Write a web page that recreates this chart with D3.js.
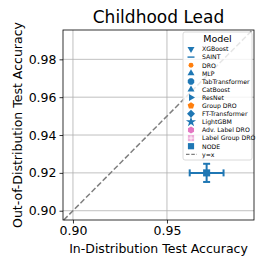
<!DOCTYPE html>
<html>
<head>
<meta charset="utf-8">
<script src="https://cdn.jsdelivr.net/npm/d3@7"></script>
<style>
  body { margin: 0; background: #fff; }
  text { font-family: "DejaVu Sans", sans-serif; }
</style>
</head>
<body>
<script>
'use strict';
var WIDTH = 266, HEIGHT = 266;

// legend entries
var models = ['XGBoost', 'SAINT', 'DRO', 'MLP', 'TabTransformer', 'CatBoost', 'ResNet',
              'Group DRO', 'FT-Transformer', 'LightGBM', 'Adv. Label DRO', 'Label Group DRO', 'NODE'];
var markers = ['tridown', 'hline', 'circle', 'triup', 'octagon', 'triup', 'triright',
               'pentagon', 'diamond', 'star', 'hexagon', 'plussquare', 'square'];
var colors = ['#1f77b4', '#1f77b4', '#ff7f0e', '#1f77b4', '#1f77b4', '#1f77b4', '#1f77b4',
              '#ff7f0e', '#1f77b4', '#1f77b4', '#e377c2', '#e377c2', '#1f77b4'];

// plotted results
var pointModel = ['NODE'];
var idAcc = [0.9711];
var oodAcc = [0.9200];
var idErr = [0.0090];
var oodErr = [0.0048];

var xTicks = [0.90, 0.95];
var yTicks = [0.90, 0.92, 0.94, 0.96, 0.98];

var margin = {left: 63, right: 12, top: 30, bottom: 46};
var x = d3.scaleLinear().domain([0.8947, 0.9963]).range([margin.left, WIDTH - margin.right]);
var y = d3.scaleLinear().domain([0.8951, 0.9955]).range([HEIGHT - margin.bottom, margin.top]);

var svg = d3.select('body').append('svg')
  .attr('width', WIDTH).attr('height', HEIGHT);

// grid
svg.append('g').selectAll('line').data(xTicks).enter().append('line')
  .attr('x1', d => x(d)).attr('x2', d => x(d))
  .attr('y1', y.range()[0]).attr('y2', y.range()[1])
  .attr('stroke', '#b0b0b0').attr('stroke-width', 0.8);
svg.append('g').selectAll('line').data(yTicks).enter().append('line')
  .attr('y1', d => y(d)).attr('y2', d => y(d))
  .attr('x1', x.range()[0]).attr('x2', x.range()[1])
  .attr('stroke', '#b0b0b0').attr('stroke-width', 0.8);

// y = x
var lo = Math.max(x.domain()[0], y.domain()[0]), hi = Math.min(x.domain()[1], y.domain()[1]);
svg.append('line')
  .attr('x1', x(lo)).attr('y1', y(lo)).attr('x2', x(hi)).attr('y2', y(hi))
  .attr('stroke', '#7f7f7f').attr('stroke-width', 1.5).attr('stroke-dasharray', '5.5,2.4');

// axes
var xAxis = svg.append('g').attr('transform', 'translate(0,' + y.range()[0] + ')')
  .call(d3.axisBottom(x).tickValues(xTicks).tickFormat(d3.format('.2f')).tickSize(3.5).tickPadding(3));
var yAxis = svg.append('g').attr('transform', 'translate(' + x.range()[0] + ',0)')
  .call(d3.axisLeft(y).tickValues(yTicks).tickFormat(d3.format('.2f')).tickSize(3.5).tickPadding(3));
[xAxis, yAxis].forEach(function (a) {
  a.select('.domain').remove();
  a.selectAll('text').style('font-size', '12.5px').attr('fill', '#000')
    .style('font-family', '"DejaVu Sans", sans-serif');
  a.selectAll('line').attr('stroke', '#000').attr('stroke-width', 0.8);
});
svg.append('rect')
  .attr('x', x.range()[0]).attr('y', y.range()[1])
  .attr('width', x.range()[1] - x.range()[0]).attr('height', y.range()[0] - y.range()[1])
  .attr('fill', 'none').attr('stroke', '#000').attr('stroke-width', 0.8);

// polygon / marker shapes
function poly(n, r, rot) {
  var pts = [];
  for (var i = 0; i < n; i++) {
    var a = rot + i * 2 * Math.PI / n;
    pts.push([r * Math.sin(a), -r * Math.cos(a)]);
  }
  return 'M' + pts.join('L') + 'Z';
}
function markerPath(m, r) {
  switch (m) {
    case 'tridown': return poly(3, r * 1.15, Math.PI);
    case 'triup': return poly(3, r * 1.15, 0);
    case 'triright': return poly(3, r * 1.15, Math.PI / 2);
    case 'circle': return d3.symbol(d3.symbolCircle, Math.PI * r * r * 0.5)();
    case 'octagon': return poly(8, r, Math.PI / 8);
    case 'pentagon': return poly(5, r, 0);
    case 'hexagon': return poly(6, r, 0);
    case 'diamond': return poly(4, r * 1.15, 0);
    case 'square': case 'plussquare': return poly(4, r * 1.25, Math.PI / 4);
    case 'star': return d3.symbol(d3.symbolStar, r * r * 2.6)();
    case 'hline': return 'M' + (-r) + ',-0.7H' + r + 'V0.7H' + (-r) + 'Z';
  }
}

// error bars and points
var pts = pointModel.map(function (m, i) {
  return {m: m, x: idAcc[i], y: oodAcc[i], ex: idErr[i], ey: oodErr[i]};
});
var pg = svg.append('g');
pts.forEach(function (p) {
  var k = models.indexOf(p.m), c = colors[k];
  var g = pg.append('g').attr('stroke', c).attr('stroke-width', 2);
  g.append('line').attr('x1', x(p.x - p.ex)).attr('x2', x(p.x + p.ex)).attr('y1', y(p.y)).attr('y2', y(p.y));
  g.append('line').attr('y1', y(p.y - p.ey)).attr('y2', y(p.y + p.ey)).attr('x1', x(p.x)).attr('x2', x(p.x));
  [p.x - p.ex, p.x + p.ex].forEach(function (v) {
    g.append('line').attr('x1', x(v)).attr('x2', x(v)).attr('y1', y(p.y) - 3.5).attr('y2', y(p.y) + 3.5);
  });
  [p.y - p.ey, p.y + p.ey].forEach(function (v) {
    g.append('line').attr('y1', y(v)).attr('y2', y(v)).attr('x1', x(p.x) - 3.5).attr('x2', x(p.x) + 3.5);
  });
  pg.append('path').attr('d', markerPath(markers[k], 4))
    .attr('transform', 'translate(' + x(p.x) + ',' + y(p.y) + ')').attr('fill', c);
});

// legend
var lx = 183, ly = 32, lw = 69, lh = 128;
var leg = svg.append('g');
leg.append('rect').attr('x', lx).attr('y', ly).attr('width', lw).attr('height', lh)
  .attr('rx', 2).attr('fill', '#fff').attr('fill-opacity', 0.8)
  .attr('stroke', '#d0d0d0').attr('stroke-width', 0.8);
leg.append('text').attr('x', lx + lw / 2).attr('y', ly + 10).attr('text-anchor', 'middle')
  .style('font-size', '9.5px').text('Model');
var rowY = d3.scaleLinear().domain([0, 13]).range([ly + 17, ly + 17 + 13 * 8.1]);
var rows = leg.selectAll('g.row').data(models.concat(['y=x'])).enter().append('g')
  .attr('transform', function (d, i) { return 'translate(' + (lx + 4) + ',' + rowY(i) + ')'; });
rows.each(function (d, i) {
  var r = d3.select(this);
  if (i < models.length) {
    r.append('path').attr('d', markerPath(markers[i], 3.5))
      .attr('transform', 'translate(' + 4 + ',0)').attr('fill', colors[i])
      .attr('fill-opacity', markers[i] === 'plussquare' ? 0.6 : 1);
    if (markers[i] === 'plussquare') {
      r.append('path').attr('d', 'M4,-2.6V2.6M1.4,0H6.6').attr('stroke', '#fff').attr('stroke-width', 0.8);
    }
  } else {
    r.append('line').attr('x1', -1).attr('x2', 10).attr('y1', 0).attr('y2', 0)
      .attr('stroke', '#7f7f7f').attr('stroke-width', 1.3).attr('stroke-dasharray', '3.5,1.8');
  }
  r.append('text').attr('x', 15).attr('y', 2.3).style('font-size', '6.2px').text(d);
});

// titles
svg.append('text').attr('x', (x.range()[0] + x.range()[1]) / 2).attr('y', 23)
  .attr('text-anchor', 'middle').style('font-size', '17px').text('Childhood Lead');
svg.append('text').attr('x', (x.range()[0] + x.range()[1]) / 2).attr('y', 253)
  .attr('text-anchor', 'middle').style('font-size', '12.5px').text('In-Distribution Test Accuracy');
svg.append('text')
  .attr('transform', 'translate(21.5,' + ((y.range()[0] + y.range()[1]) / 2) + ') rotate(-90)')
  .attr('text-anchor', 'middle').style('font-size', '12.5px').text('Out-of-Distribution Test Accuracy');
</script>
</body>
</html>
